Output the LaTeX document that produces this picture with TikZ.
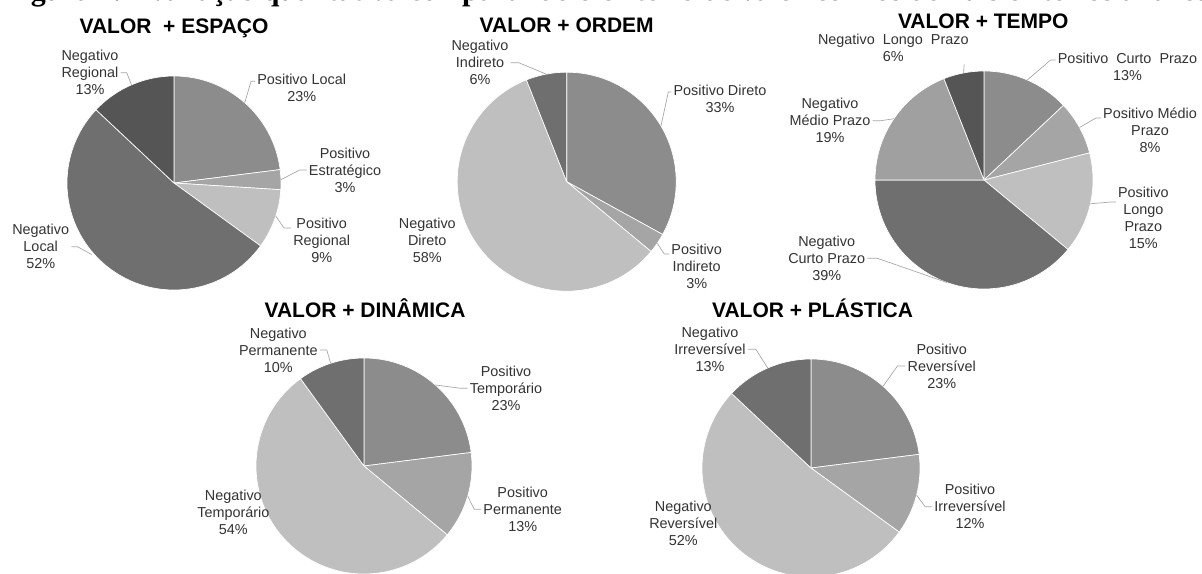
\documentclass[tikz,border=0pt]{standalone}
\usepackage{fontspec}
\setmainfont{Liberation Sans}
\newfontfamily\serifcap{Liberation Serif}
\usetikzlibrary{positioning,calc}

\definecolor{cA}{HTML}{8C8C8C}
\definecolor{cB}{HTML}{A5A5A5}
\definecolor{cC}{HTML}{BFBFBF}
\definecolor{cD}{HTML}{6F6F6F}
\definecolor{cE}{HTML}{555555}
\definecolor{cF}{HTML}{A0A0A0}
\definecolor{leadgray}{HTML}{A6A6A6}
\definecolor{lbltext}{HTML}{333333}

\tikzset{
  fatia/.style={draw=white, line width=0.5pt, line join=round},
  leader/.style={draw=leadgray, line width=0.5pt},
  lbl/.style={align=center, inner sep=1.5pt, text=lbltext,
    font=\fontsize{10.8}{12.75}\selectfont},
  titulo/.style={anchor=base, inner sep=0pt,
    font=\fontsize{15.75}{18}\selectfont\bfseries}
}

\begin{document}
\begin{tikzpicture}[x=0.75pt,y=-0.75pt]
  \useasboundingbox (0,0) rectangle (1202,574);
  \fill[white] (0,0) rectangle (1202,574);

  % legenda cortada no topo
  \node[anchor=base west, inner sep=0pt, font=\serifcap\fontsize{22.5}{26}\selectfont\bfseries]
    (legenda) at (4,0.5) {Figura 2. Avaliação qualitativa comparando o critério de valor com os demais critérios analisados};

  % centros
  \coordinate (esp) at (174,183);
  \coordinate (ord) at (566.7,181.7);
  \coordinate (tmp) at (984,180);
  \coordinate (din) at (364,466);
  \coordinate (pla) at (811,468);

  % VALOR + ESPACO
  \foreach \a/\b/\c in {0/23/cA,23/26/cB,26/35/cC,35/87/cD,87/100/cE}
    \filldraw[fatia, fill=\c] (esp) -- ++({-90+3.6*\a}:107)
      arc[start angle={-90+3.6*\a}, end angle={-90+3.6*\b}, radius=107] -- cycle;
  \node[titulo] (tesp) at (174,33.3) {VALOR\ \ + ESPAÇO};
  \node[lbl] (nreg) at (90,72.7) {Negativo\\Regional\\13\%};
  \node[lbl] (ploc) at (301.7,88) {Positivo Local\\23\%};
  \node[lbl] (pest) at (345,170) {Positivo\\Estratégico\\3\%};
  \node[lbl] (preg) at (321.7,240) {Positivo\\Regional\\9\%};
  \node[lbl] (nloc) at (40.7,246.7) {Negativo\\Local\\52\%};
  \draw[leader] (nreg.east) -- ++(6,0) -- ($(esp)+(246.6:107)$);
  \draw[leader] ([yshift=5pt]ploc.west) -- ++(-4,0) -- ($(esp)+(-48.6:107)$);
  \draw[leader] (pest.west) -- ++(-7,0) -- ($(esp)+(-1.8:107)$);
  \draw[leader] ([yshift=9pt]preg.west) -- ++(-7,0) -- ($(esp)+(18:107)$);
  \draw[leader] (nloc.east) -- ++(6,0) -- ($(esp)+(139:109)$);

  % VALOR + ORDEM
  \foreach \a/\b/\c in {0/33/cA,33/36/cB,36/94/cC,94/100/cD}
    \filldraw[fatia, fill=\c] (ord) -- ++({-90+3.6*\a}:109.5)
      arc[start angle={-90+3.6*\a}, end angle={-90+3.6*\b}, radius=109.5] -- cycle;
  \node[titulo] (tord) at (566.7,32.7) {VALOR + ORDEM};
  \node[lbl] (nind) at (480,62.7) {Negativo\\Indireto\\6\%};
  \node[lbl] (pdir) at (720,98.7) {Positivo Direto\\33\%};
  \node[lbl] (pind) at (696.7,266) {Positivo\\Indireto\\3\%};
  \node[lbl] (ndir) at (427.3,240.7) {Negativo\\Direto\\58\%};
  \draw[leader] (nind.east) -- ++(8,0) -- ($(ord)+(259.2:109.5)$);
  \draw[leader] ([yshift=5pt]pdir.west) -- ++(-3,0) -- ($(ord)+(-30.6:109.5)$);
  \draw[leader] ([yshift=9pt]pind.west) -- ++(-5,0) -- ($(ord)+(34.2:109.5)$);

  % VALOR + TEMPO
  \foreach \a/\b/\c in {0/13/cA,13/21/cB,21/36/cC,36/75/cD,75/94/cF,94/100/cE}
    \filldraw[fatia, fill=\c] (tmp) -- ++({-90+3.6*\a}:109)
      arc[start angle={-90+3.6*\a}, end angle={-90+3.6*\b}, radius=109] -- cycle;
  \node[titulo] (ttmp) at (983.3,28.3) {VALOR + TEMPO};
  \node[lbl] (nlp) at (893.3,48) {Negativo\ \ Longo\ \ Prazo\\6\%};
  \node[lbl] (pcp) at (1127.5,66.7) {Positivo\ \ Curto\ \ Prazo\\13\%};
  \node[lbl] (pmp) at (1150,130) {Positivo Médio\\Prazo\\8\%};
  \node[lbl] (plp) at (1143.3,218) {Positivo\\Longo\\Prazo\\15\%};
  \node[lbl] (nmp) at (830,120.7) {Negativo\\Médio Prazo\\19\%};
  \node[lbl] (ncp) at (826.7,258.3) {Negativo\\Curto Prazo\\39\%};
  \draw[leader] ([xshift=-5pt]nlp.south east) -- ($(tmp)+(259.2:109)$);
  \draw[leader] ([yshift=5pt]pcp.west) -- ++(-5,0) -- ($(tmp)+(-66.6:109)$);
  \draw[leader] ([yshift=9pt]pmp.west) -- ++(-5,0) -- ($(tmp)+(-28.8:109)$);
  \draw[leader] ([yshift=12pt]plp.west) -- ++(-5,0) -- ($(tmp)+(12.6:109)$);
  \draw[leader] (nmp.east) -- ++(8,0) -- ($(tmp)+(214.2:109)$);
  \draw[leader] (ncp.east) -- ++(10,0) -- ($(tmp)+(109.8:109)$);

  % VALOR + DINAMICA
  \foreach \a/\b/\c in {0/23/cA,23/36/cB,36/90/cC,90/100/cD}
    \filldraw[fatia, fill=\c] (din) -- ++({-90+3.6*\a}:108)
      arc[start angle={-90+3.6*\a}, end angle={-90+3.6*\b}, radius=108] -- cycle;
  \node[titulo] (tdin) at (365,317.3) {VALOR + DINÂMICA};
  \node[lbl] (nper) at (278.3,350) {Negativo\\Permanente\\10\%};
  \node[lbl] (ptem) at (506,388.3) {Positivo\\Temporário\\23\%};
  \node[lbl] (pper) at (522.7,509.3) {Positivo\\Permanente\\13\%};
  \node[lbl] (ntem) at (233.3,512.7) {Negativo\\Temporário\\54\%};
  \draw[leader] (nper.east) -- ++(7,0) -- ($(din)+(252:108)$);
  \draw[leader] (ptem.west) -- ++(-7,0) -- ($(din)+(-48.6:108)$);
  \draw[leader] (pper.west) -- ++(-7,0) -- ($(din)+(16.2:108)$);

  % VALOR + PLASTICA
  \foreach \a/\b/\c in {0/23/cA,23/35/cB,35/87/cC,87/100/cD}
    \filldraw[fatia, fill=\c] (pla) -- ++({-90+3.6*\a}:109)
      arc[start angle={-90+3.6*\a}, end angle={-90+3.6*\b}, radius=109] -- cycle;
  \node[titulo] (tpla) at (812.5,317.3) {VALOR + PLÁSTICA};
  \node[lbl] (nirr) at (710,349.3) {Negativo\\Irreversível\\13\%};
  \node[lbl] (prev) at (941.7,366) {Positivo\\Reversível\\23\%};
  \node[lbl] (pirr) at (970,506.7) {Positivo\\Irreversível\\12\%};
  \node[lbl] (nrev) at (683.3,523.3) {Negativo\\Reversível\\52\%};
  \draw[leader] (nirr.east) -- ++(8,0) -- ($(pla)+(246.6:109)$);
  \draw[leader] (prev.west) -- ++(-8,0) -- ($(pla)+(-48.6:109)$);
  \draw[leader] (pirr.west) -- ++(-7,0) -- ($(pla)+(14.4:109)$);
\end{tikzpicture}
\end{document}
